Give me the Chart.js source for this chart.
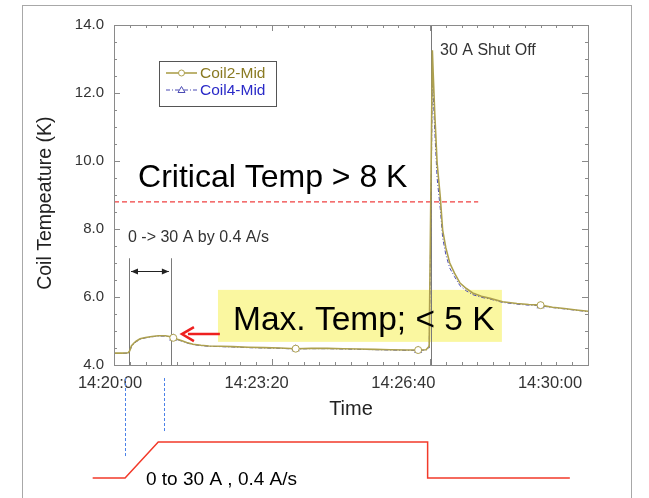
<!DOCTYPE html>
<html>
<head>
<meta charset="utf-8">
<script src="https://cdn.jsdelivr.net/npm/chart.js@4.4.1/dist/chart.umd.min.js"></script>
<style>
  html, body { margin: 0; padding: 0; background: #fff; }
  #wrap { position: relative; width: 649px; height: 498px; overflow: hidden; }
  #frame { position: absolute; left: 22px; top: 5px; width: 610px; height: 520px;
           border: 1px solid #a8a8a8; box-sizing: border-box; }
  #c { position: absolute; left: 0; top: 0; }
</style>
</head>
<body>
<div id="wrap">
  <div id="frame"></div>
  <canvas id="c" width="649" height="498"></canvas>
</div>
<script>
// Time axis: seconds after 14:20:00
const timeSec = [0, 10, 18, 20, 22, 25, 28, 33, 40, 48, 56, 65, 72, 75, 80, 86, 92, 100, 110, 120,
  135, 150, 170, 190, 210, 230, 250, 270, 290, 310, 330, 350, 370, 385, 395, 399, 401, 403, 404,
  406, 409, 413, 416, 420, 425, 431, 438, 446, 454, 465, 476, 492, 510, 525, 540, 555, 570, 585, 600];

// Coil temperatures (K)
const coil2Mid = [4.35, 4.35, 4.36, 4.42, 4.56, 4.64, 4.70, 4.77, 4.81, 4.84, 4.86, 4.86, 4.83, 4.80,
  4.76, 4.71, 4.66, 4.61, 4.58, 4.56, 4.55, 4.54, 4.52, 4.51, 4.50, 4.48, 4.49, 4.49, 4.48, 4.47,
  4.46, 4.45, 4.44, 4.44, 4.45, 4.55, 8.90, 13.26, 12.60, 11.40, 9.94, 8.94, 7.97, 7.45, 7.00, 6.70,
  6.41, 6.25, 6.12, 6.02, 5.96, 5.86, 5.81, 5.78, 5.76, 5.70, 5.66, 5.62, 5.58];
const coil4Mid = [4.34, 4.34, 4.35, 4.40, 4.54, 4.62, 4.68, 4.76, 4.80, 4.83, 4.85, 4.85, 4.82, 4.79,
  4.75, 4.70, 4.65, 4.60, 4.57, 4.55, 4.54, 4.53, 4.51, 4.50, 4.49, 4.47, 4.48, 4.48, 4.47, 4.46,
  4.45, 4.44, 4.43, 4.43, 4.44, 4.50, 8.00, 12.40, 12.00, 10.90, 9.50, 8.60, 7.75, 7.25, 6.85, 6.60,
  6.33, 6.18, 6.07, 5.99, 5.94, 5.84, 5.79, 5.76, 5.74, 5.69, 5.65, 5.61, 5.57];

// Times carrying a plot symbol
const markerSec = [75, 230, 385, 540];

// Coil current schedule (A) drawn under the time axis
const currentSec = [-27, 14, 56, 397, 397, 577];
const currentAmp = [0, 0, 30, 30, 0, 0];

// Axis ticks
const xTickSec = [0, 200, 400, 600];
const yTickK = [4, 6, 8, 10, 12, 14];

// Reference levels and events (s, K)
const criticalTempK = 8.8;
const rampStartSec = 19;
const rampEndSec = 72;
const shutOffSec = 401;

const FONT = '"Liberation Sans", Arial, Helvetica, sans-serif';
const COIL2 = '#ada04e';
const COIL2_TEXT = '#8a7a22';
const COIL4 = '#4a4ab4';
const COIL4_TEXT = '#2a2ac8';

function hms(sec) {
  const base = 14 * 3600 + 20 * 60 + sec;
  const h = Math.floor(base / 3600), m = Math.floor(base % 3600 / 60), s = Math.round(base % 60);
  return h + ':' + String(m).padStart(2, '0') + ':' + String(s).padStart(2, '0');
}

const pts = (xs, ys) => xs.map((x, i) => ({ x: x, y: ys[i] }));
const markRadius = ctx => markerSec.includes(ctx.raw && ctx.raw.x) ? 3.5 : 0;

// Annotations, frame ticks and legend
const decor = {
  id: 'decor',
  beforeDatasetsDraw(chart) {
    const { ctx, chartArea: a } = chart;
    const x = chart.scales.x, y = chart.scales.y;
    ctx.save();
    // highlight box
    const bx0 = x.getPixelForValue(131.6), bx1 = x.getPixelForValue(491);
    const by0 = y.getPixelForValue(6.21), by1 = y.getPixelForValue(4.68);
    ctx.fillStyle = 'rgb(250,247,160)';
    ctx.fillRect(bx0, by0, bx1 - bx0, by1 - by0);
    // critical temperature level
    ctx.strokeStyle = '#f04040';
    ctx.lineWidth = 1.2;
    ctx.setLineDash([5, 3]);
    ctx.beginPath();
    ctx.moveTo(a.left, y.getPixelForValue(criticalTempK));
    ctx.lineTo(x.getPixelForValue(461), y.getPixelForValue(criticalTempK));
    ctx.stroke();
    ctx.setLineDash([]);
    // event lines
    ctx.strokeStyle = '#7a7a7a';
    ctx.lineWidth = 1;
    [[rampStartSec, 7.14], [rampEndSec, 7.14], [shutOffSec, 14]].forEach(([t, top]) => {
      const px = Math.round(x.getPixelForValue(t)) + 0.5;
      ctx.beginPath();
      ctx.moveTo(px, y.getPixelForValue(top));
      ctx.lineTo(px, a.bottom);
      ctx.stroke();
    });
    ctx.restore();
  },
  afterDatasetsDraw(chart) {
    const { ctx, chartArea: a } = chart;
    const x = chart.scales.x, y = chart.scales.y, yA = chart.scales.yA;
    ctx.save();
    // plot frame
    ctx.strokeStyle = '#8a8a8a';
    ctx.lineWidth = 1;
    ctx.strokeRect(Math.round(a.left) + 0.5, Math.round(a.top) + 0.5,
      Math.round(a.right - a.left), Math.round(a.bottom - a.top));
    // tick marks on all four sides
    ctx.beginPath();
    for (let t = 0; t <= 600; t += 20) {
      const px = Math.round(x.getPixelForValue(t)) + 0.5;
      const len = t % 200 === 0 ? 6 : 3;
      ctx.moveTo(px, a.bottom); ctx.lineTo(px, a.bottom - len);
      ctx.moveTo(px, a.top); ctx.lineTo(px, a.top + len);
    }
    for (let k = 4; k <= 14; k += 0.5) {
      const py = Math.round(y.getPixelForValue(k)) + 0.5;
      const len = k % 2 === 0 ? 6 : 3;
      ctx.moveTo(a.left, py); ctx.lineTo(a.left + len, py);
      ctx.moveTo(a.right, py); ctx.lineTo(a.right - len, py);
    }
    ctx.stroke();

    // ramp span arrow
    const ay = y.getPixelForValue(6.75);
    const ax0 = x.getPixelForValue(rampStartSec) + 2, ax1 = x.getPixelForValue(rampEndSec) - 2;
    ctx.strokeStyle = '#222'; ctx.fillStyle = '#222'; ctx.lineWidth = 1;
    ctx.beginPath(); ctx.moveTo(ax0, ay); ctx.lineTo(ax1, ay); ctx.stroke();
    ctx.beginPath(); ctx.moveTo(ax0, ay); ctx.lineTo(ax0 + 7, ay - 3); ctx.lineTo(ax0 + 7, ay + 3); ctx.fill();
    ctx.beginPath(); ctx.moveTo(ax1, ay); ctx.lineTo(ax1 - 7, ay - 3); ctx.lineTo(ax1 - 7, ay + 3); ctx.fill();

    // red pointer to the maximum
    const ry = y.getPixelForValue(4.91);
    const rx0 = x.getPixelForValue(86), rx1 = x.getPixelForValue(134);
    ctx.strokeStyle = '#ee2020'; ctx.fillStyle = '#ee2020'; ctx.lineWidth = 2.5;
    ctx.beginPath(); ctx.moveTo(rx0 + 6, ry); ctx.lineTo(rx1, ry); ctx.stroke();
    ctx.lineWidth = 2.5; ctx.lineJoin = 'miter';
    ctx.beginPath(); ctx.moveTo(rx0 + 12, ry - 7); ctx.lineTo(rx0, ry); ctx.lineTo(rx0 + 12, ry + 7); ctx.stroke();

    // texts
    ctx.textBaseline = 'alphabetic';
    ctx.textAlign = 'left';
    ctx.fillStyle = '#000';
    ctx.font = '32px ' + FONT;
    ctx.fillText('Critical Temp > 8 K', x.getPixelForValue(30.4), y.getPixelForValue(9.24));
    ctx.font = '33.5px ' + FONT;
    ctx.fillText('Max. Temp; < 5 K', x.getPixelForValue(150.6), y.getPixelForValue(5.03));
    ctx.fillStyle = '#333';
    ctx.font = '16px ' + FONT;
    ctx.textBaseline = 'middle';
    ctx.fillText('0 -> 30 A by 0.4 A/s', x.getPixelForValue(17.7), y.getPixelForValue(7.76));
    ctx.fillText('30 A Shut Off', x.getPixelForValue(412.7), y.getPixelForValue(13.26));

    // current schedule annotations below the axis
    ctx.strokeStyle = '#4a80e8'; ctx.lineWidth = 1; ctx.setLineDash([3, 2]);
    [[14, 16.7], [63, 38.3]].forEach(([t, lo]) => {
      const px = Math.round(x.getPixelForValue(t)) + 0.5;
      ctx.beginPath(); ctx.moveTo(px, yA.getPixelForValue(83.3)); ctx.lineTo(px, yA.getPixelForValue(lo)); ctx.stroke();
    });
    ctx.setLineDash([]);
    ctx.fillStyle = '#000';
    ctx.textBaseline = 'alphabetic';
    ctx.font = '19px ' + FONT;
    ctx.fillText('0 to 30 A , 0.4 A/s', x.getPixelForValue(40.5), yA.getPixelForValue(-5.8));

    // legend
    const lx = a.left + 45, ly = a.top + 36, lw = 117, lh = 45;
    ctx.fillStyle = '#fff';
    ctx.fillRect(lx, ly, lw, lh);
    ctx.strokeStyle = '#555'; ctx.lineWidth = 1;
    ctx.strokeRect(Math.round(lx) + 0.5, Math.round(ly) + 0.5, lw, lh);
    const entries = chart.data.datasets.slice(0, 2);
    const textColors = [COIL2_TEXT, COIL4_TEXT];
    entries.forEach((ds, i) => {
      const ey = ly + 12 + i * 17;
      ctx.strokeStyle = ds.borderColor; ctx.lineWidth = ds.borderWidth;
      ctx.setLineDash(ds.borderDash || []);
      ctx.beginPath(); ctx.moveTo(lx + 7, ey); ctx.lineTo(lx + 38, ey); ctx.stroke();
      ctx.setLineDash([]);
      ctx.lineWidth = 1;
      ctx.fillStyle = '#fff';
      ctx.beginPath();
      if (ds.pointStyle === 'triangle') {
        ctx.moveTo(lx + 22.5, ey - 3.5); ctx.lineTo(lx + 26, ey + 2.5); ctx.lineTo(lx + 19, ey + 2.5); ctx.closePath();
      } else {
        ctx.arc(lx + 22.5, ey, 3, 0, Math.PI * 2);
      }
      ctx.fill(); ctx.stroke();
      ctx.fillStyle = textColors[i];
      ctx.font = '15.5px ' + FONT;
      ctx.textBaseline = 'middle';
      ctx.fillText(ds.label, lx + 41, ey + 1);
    });
    ctx.restore();
  }
};

Chart.defaults.font.family = FONT;
Chart.defaults.color = '#333';

new Chart(document.getElementById('c'), {
  type: 'line',
  data: {
    datasets: [
      {
        label: 'Coil2-Mid',
        data: pts(timeSec, coil2Mid),
        borderColor: COIL2, backgroundColor: '#fff',
        borderWidth: 1.6, pointStyle: 'circle',
        pointRadius: markRadius, pointBorderColor: COIL2, pointBorderWidth: 1,
        tension: 0, xAxisID: 'x', yAxisID: 'y'
      },
      {
        label: 'Coil4-Mid',
        data: pts(timeSec, coil4Mid),
        borderColor: COIL4, backgroundColor: 'rgba(255,255,255,0)',
        borderWidth: 1, borderDash: [4, 2, 1, 2], pointStyle: 'triangle',
        pointRadius: markRadius, pointBorderColor: COIL4, pointBorderWidth: 1.2,
        tension: 0, xAxisID: 'x', yAxisID: 'y'
      },
      {
        label: 'Current',
        data: pts(currentSec, currentAmp),
        borderColor: '#f23a2a', borderWidth: 1.5, pointRadius: 0,
        tension: 0, xAxisID: 'x', yAxisID: 'yA', clip: false
      }
    ]
  },
  options: {
    responsive: false,
    animation: false,
    devicePixelRatio: 1,
    layout: { padding: { left: 30, top: 25, right: 61, bottom: 76.8 } },
    plugins: { legend: { display: false }, tooltip: { enabled: false } },
    scales: {
      // time scale that places the data
      x: { type: 'linear', position: 'bottom', min: 0, max: 600, display: false },
      // time axis carrying the printed labels, whose spacing is a little tighter than the tick marks
      xl: {
        type: 'linear', position: 'bottom', min: 5.45, max: 651.8,
        afterBuildTicks: s => { s.ticks = xTickSec.map(v => ({ value: v })); },
        afterFit: s => { s.height = 56.2; },
        ticks: { callback: v => hms(v), font: { size: 16.5 }, color: '#333', padding: 9, maxRotation: 0, autoSkip: false },
        grid: { display: false, drawTicks: false },
        border: { display: false },
        title: { display: true, text: 'Time', font: { size: 20 }, color: '#222', padding: 0 }
      },
      y: {
        type: 'linear', position: 'left', min: 4, max: 14,
        afterBuildTicks: s => { s.ticks = yTickK.map(v => ({ value: v })); },
        afterFit: s => { s.width = 84; },
        ticks: { callback: v => v.toFixed(1), font: { size: 15 }, color: '#333', padding: 10 },
        grid: { display: false, drawTicks: false },
        border: { display: false },
        title: { display: true, text: 'Coil Tempeature (K)   ', font: { size: 19.5 }, color: '#222', padding: { top: 4, bottom: 0 } }
      },
      yA: { type: 'linear', display: false, min: 94.17, max: 377.5 }
    }
  },
  plugins: [decor]
});
</script>
</body>
</html>
